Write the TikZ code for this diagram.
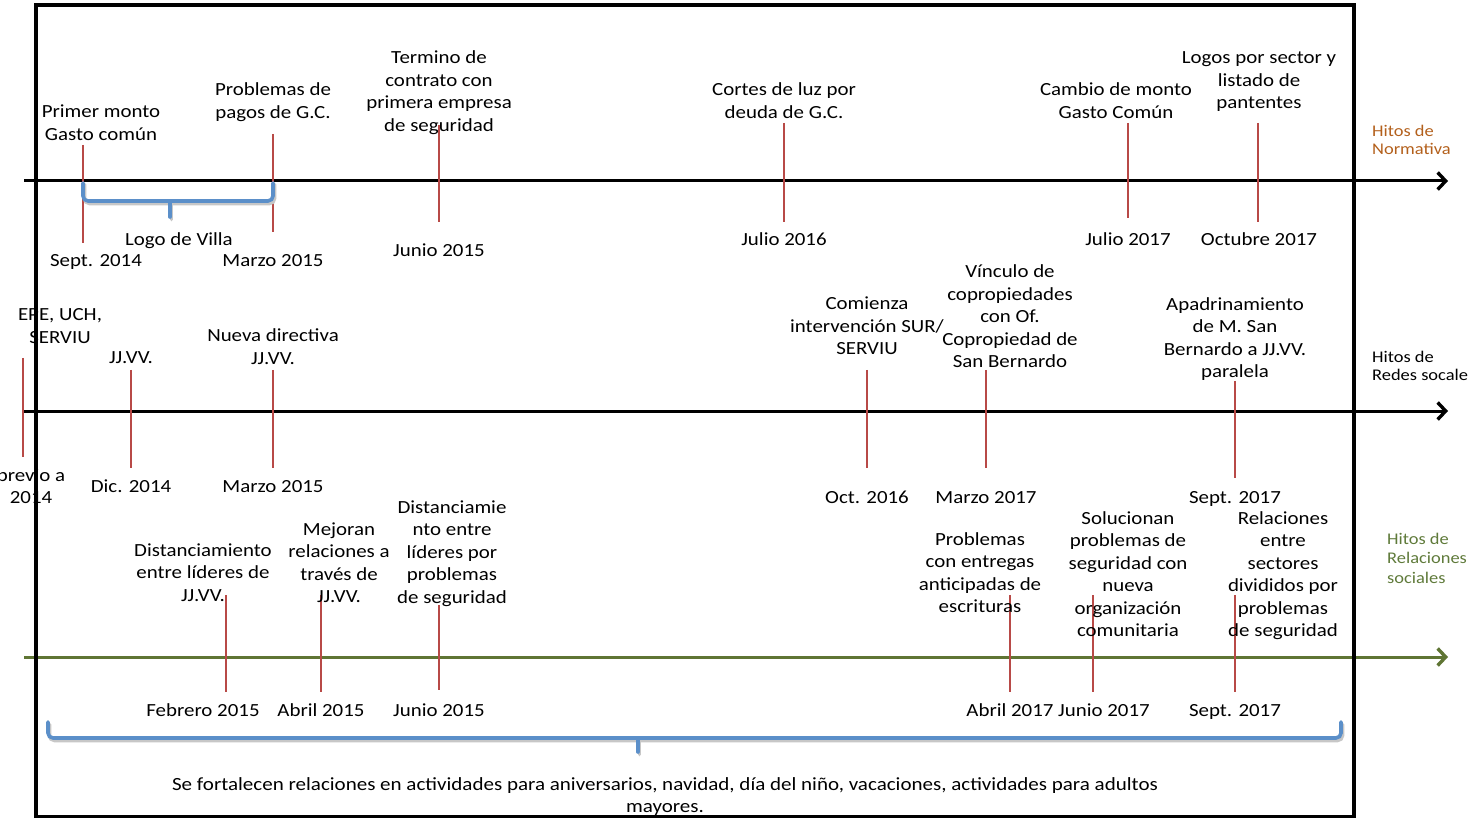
\documentclass[tikz,border=0pt]{standalone}
\usepackage{fontspec}
\setmainfont{Carlito}
\newfontfamily\widefont{Carlito}[FakeStretch=1.13]
\usetikzlibrary{arrows.meta}
\definecolor{tickred}{RGB}{184,74,71}
\definecolor{braceblue}{RGB}{91,143,201}
\definecolor{axisgreen}{RGB}{95,117,52}
\definecolor{normorange}{RGB}{179,96,28}
\definecolor{relgreen}{RGB}{95,122,58}
\tikzset{
  lbl/.style={align=center, inner sep=0pt, anchor=base, yshift=1pt, font=\widefont\fontsize{18.5}{22.5}\selectfont},
  side/.style={align=left, inner sep=0pt, anchor=base west, font=\widefont\fontsize{16.3}{18.5}\selectfont},
  tickline/.style={draw=tickred, line width=1.8pt},
  axisline/.style={line width=3pt, -{Straight Barb[length=8pt,width=17pt,line width=3.4pt]}},
  bracepath/.style={draw=braceblue, line width=3.6pt, rounded corners=5pt, line cap=round},
  braceshadow/.style={draw=black!22, line width=3.6pt, rounded corners=5pt, line cap=round},
}
\begin{document}
\begin{tikzpicture}[x=1pt,y=-1pt]
\useasboundingbox (0,0) rectangle (1468,818);
\clip (0,0) rectangle (1468,818);
% axes
\coordinate (a1s) at (24,181); \coordinate (a1e) at (1448,181);
\coordinate (a2s) at (24,411); \coordinate (a2e) at (1448,411);
\coordinate (a3s) at (24,657); \coordinate (a3e) at (1448,657);
\draw[axisline] (a1s) -- (a1e);
\draw[axisline] (a2s) -- (a2e);
\draw[axisline, draw=axisgreen] (a3s) -- (a3e);
% ticks axis 1
\foreach \x/\ya/\yb in {83/145/243, 273/134/232, 439/125/222, 784/123/222, 1128/123/218, 1258/123/222}
  \draw[tickline] (\x,\ya) -- (\x,\yb);
% ticks axis 2
\foreach \x/\ya/\yb in {23/358/457, 131/370/468, 273/370/468, 867/370/468, 986/370/468, 1235/381/478}
  \draw[tickline] (\x,\ya) -- (\x,\yb);
% ticks axis 3
\foreach \x/\ya/\yb in {226/595/692, 321/595/692, 439/605/690, 1010/595/692, 1093/595/692, 1235/595/692}
  \draw[tickline] (\x,\ya) -- (\x,\yb);
% braces
\draw[braceshadow] (84.5,184.5) -- (84.5,203.5) -- (274.5,203.5) -- (274.5,184.5);
\draw[braceshadow] (171.5,203.5) -- (171.5,219.5);
\draw[bracepath] (83,183) -- (83,201) -- (273,201) -- (273,183);
\draw[bracepath] (170,201) -- (170,217);
\draw[braceshadow] (49.5,724.5) -- (49.5,740.5) -- (1342.5,740.5) -- (1342.5,724.5);
\draw[braceshadow] (639.5,740.5) -- (639.5,754.5);
\draw[bracepath] (48,722) -- (48,738) -- (1341,738) -- (1341,722);
\draw[bracepath] (638,738) -- (638,752);
% labels axis 1 (positions are the baseline of the last line)
\node[lbl] (n1) at (101,141.5) {Primer monto\\Gasto común};
\node[lbl] (n2) at (273,119.5) {Problemas de\\pagos de G.C.};
\node[lbl] (n3) at (439,132.5) {Termino de\\contrato con\\primera empresa\\de seguridad};
\node[lbl] (n4) at (784,119.5) {Cortes de luz por\\deuda de G.C.};
\node[lbl] (n5) at (1116,119.5) {Cambio de monto\\Gasto Común};
\node[lbl] (n6) at (1259,110) {Logos por sector y\\listado de\\pantentes};
\node[lbl] (d1) at (96,268) {Sept. 2014};
\node[lbl] (d2) at (273,268) {Marzo 2015};
\node[lbl] (d3) at (439,258) {Junio 2015};
\node[lbl] (d4) at (784,247) {Julio 2016};
\node[lbl] (d5) at (1128,247) {Julio 2017};
\node[lbl] (d6) at (1259,247) {Octubre 2017};
\node[lbl] (logo) at (179,247) {Logo de Villa};
% labels axis 2
\node[lbl] (r1) at (60,344.5) {EPE, UCH,\\SERVIU};
\node[lbl] (rd1) at (31,504.5) {previo a\\2014};
\node[lbl] (r2) at (131,365) {JJ.VV.};
\node[lbl] (rd2) at (131,493) {Dic. 2014};
\node[lbl] (r3) at (273,365.5) {Nueva directiva\\JJ.VV.};
\node[lbl] (rd3) at (273,493) {Marzo 2015};
\node[lbl] (r4) at (867,356) {Comienza\\intervención SUR/\\SERVIU};
\node[lbl] (rd4) at (867,504) {Oct. 2016};
\node[lbl] (r5) at (1010,369) {Vínculo de\\copropiedades\\con Of.\\Copropiedad de\\San Bernardo};
\node[lbl] (rd5) at (986,504) {Marzo 2017};
\node[lbl] (r6) at (1235,378.5) {Apadrinamiento\\de M. San\\Bernardo a JJ.VV.\\paralela};
\node[lbl] (rd6) at (1235,504) {Sept. 2017};
% labels axis 3
\node[lbl] (s1) at (203,602) {Distanciamiento\\entre líderes de\\JJ.VV.};
\node[lbl] (sd1) at (203,717) {Febrero 2015};
\node[lbl] (s2) at (339,603.5) {Mejoran\\relaciones a\\través de\\JJ.VV.};
\node[lbl] (sd2) at (321,717) {Abril 2015};
\node[lbl] (s3) at (452,604) {Distanciamie\\nto entre\\líderes por\\problemas\\de seguridad};
\node[lbl] (sd3) at (439,717) {Junio 2015};
\node[lbl] (s4) at (980,613.5) {Problemas\\con entregas\\anticipadas de\\escrituras};
\node[lbl] (sd4) at (1010,717) {Abril 2017};
\node[lbl] (s5) at (1128,637.5) {Solucionan\\problemas de\\seguridad con\\nueva\\organización\\comunitaria};
\node[lbl] (sd5) at (1104,717) {Junio 2017};
\node[lbl] (s6) at (1283,637.5) {Relaciones\\entre\\sectores\\divididos por\\problemas\\de seguridad};
\node[lbl] (sd6) at (1235,717) {Sept. 2017};
% side labels
\node[side, text=normorange] (h1) at (1372,155) {Hitos de\\Normativa};
\node[side] (h2) at (1372,381) {Hitos de\\Redes socales};
\node[side, text=relgreen, font=\widefont\fontsize{16.3}{19.5}\selectfont] (h3) at (1387,583) {Hitos de\\Relaciones\\sociales};
% bottom text
\node[align=center, inner sep=0pt, anchor=base, font=\widefont\fontsize{18.6}{22}\selectfont] (bt) at (665,812)
  {Se fortalecen relaciones en actividades para aniversarios, navidad, día del niño, vacaciones, actividades para adultos\\mayores.};
% frame
\draw[line width=3.5pt] (36,5) rectangle (1354,817);
\end{tikzpicture}
\end{document}
